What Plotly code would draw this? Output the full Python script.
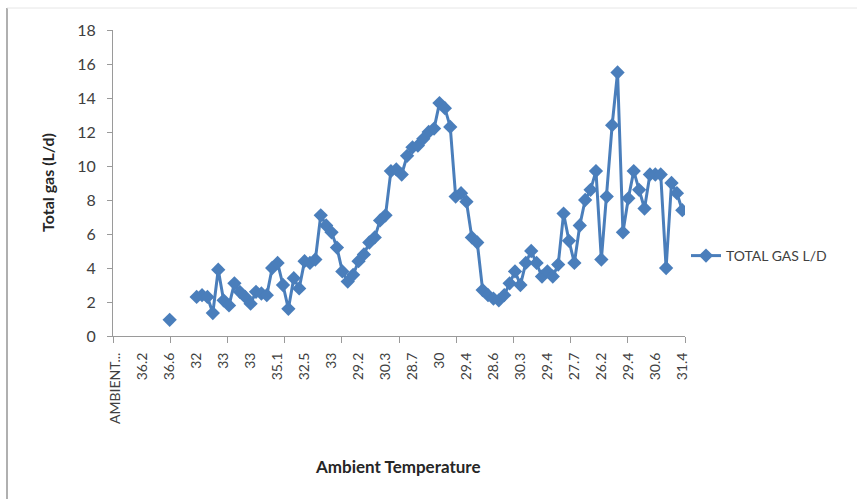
import plotly.graph_objects as go

# Tick labels shown on the category axis (every 5th category)
tick_labels = ["AMBIENT...", "36.2", "36.6", "32", "33", "33", "35.1", "32.5", "33",
               "29.2", "30.3", "28.7", "30", "29.4", "28.6", "30.3", "29.4", "27.7",
               "26.2", "29.4", "30.6", "31.4"]
label_step = 5
n_categories = (len(tick_labels) - 1) * label_step + 1

# Total gas (L/d) per category; None = no value
leading_empty = 10
isolated_value = [0.95]
gap_empty = 4
main_values = [2.3, 2.4, 2.3, 1.35, 3.9, 2.1, 1.8, 3.1, 2.6, 2.3,
               1.9, 2.6, 2.5, 2.4, 4.0, 4.3, 3.0, 1.6, 3.4, 2.8,
               4.4, 4.3, 4.5, 7.1, 6.5, 6.1, 5.2, 3.8, 3.2, 3.6,
               4.4, 4.8, 5.5, 5.8, 6.8, 7.1, 9.7, 9.8, 9.5, 10.6,
               11.1, 11.2, 11.6, 12.0, 12.2, 13.7, 13.4, 12.3, 8.2, 8.4,
               7.9, 5.8, 5.5, 2.7, 2.4, 2.2, 2.1, 2.4, 3.1, 3.8,
               3.0, 4.3, 5.0, 4.3, 3.5, 3.8, 3.5, 4.2, 7.2, 5.6,
               4.3, 6.5, 8.0, 8.6, 9.7, 4.5, 8.2, 12.4, 15.5, 6.1,
               8.1, 9.7, 8.6, 7.5, 9.5, 9.5, 9.5, 4.0, 9.0, 8.4,
               7.4]
gas = [None] * leading_empty + isolated_value + [None] * gap_empty + main_values
gas = gas + [None] * (n_categories - len(gas))
gas = gas[:n_categories]

y_ticks = list(range(0, 19, 2))

W, H = 857, 499
L, R, T, B = 113, 685, 30, 336

fig = go.Figure()
fig.add_trace(go.Scatter(
    x=list(range(n_categories)), y=gas, mode="lines+markers",
    name="TOTAL GAS L/D",
    line=dict(color="#4A7EBB", width=3),
    marker=dict(symbol="diamond", size=11, color="#4A7EBB"),
    connectgaps=False,
))

font_family = "Lato, Open Sans, Liberation Sans, sans-serif"

fig.update_layout(
    width=W, height=H,
    margin=dict(l=L, r=W - R, t=T, b=H - B),
    paper_bgcolor="white", plot_bgcolor="white",
    font=dict(family=font_family, color="#404040"),
    showlegend=True,
    legend=dict(x=(686 - L) / (R - L), xanchor="left",
                y=(B - 256) / (B - T), yanchor="middle",
                font=dict(size=14, color="#404040", family=font_family),
                bgcolor="rgba(0,0,0,0)"),
    xaxis=dict(
        range=[-0.5, n_categories - 0.5],
        tickmode="array",
        tickvals=[i * label_step for i in range(len(tick_labels))],
        ticktext=tick_labels,
        tickangle=-90,
        ticks="",
        ticklabelstandoff=10,
        tickfont=dict(size=14, color="#404040"),
        showgrid=False, zeroline=False,
        showline=True, linecolor="#9a9a9a", linewidth=1,
        minor=dict(ticks="outside", tickmode="linear", tick0=-0.5,
                   dtick=n_categories / 10, ticklen=6, tickcolor="#9a9a9a",
                   showgrid=False),
    ),
    yaxis=dict(
        range=[0, 18], tickmode="array", tickvals=y_ticks,
        ticks="outside", ticklen=5, tickcolor="#9a9a9a",
        ticklabelstandoff=8,
        tickfont=dict(size=16, color="#404040"),
        showgrid=False, zeroline=False,
        showline=True, linecolor="#9a9a9a", linewidth=1,
    ),
    annotations=[
        dict(text="<b>Total gas (L/d)</b>", textangle=-90,
             xref="paper", yref="paper", xanchor="center", yanchor="middle",
             x=(47 - L) / (R - L), y=0.5, showarrow=False,
             font=dict(size=16, color="#262626", family=font_family)),
        dict(text="<b>Ambient Temperature</b>",
             xref="paper", yref="paper", xanchor="center", yanchor="middle",
             x=(398 - L) / (R - L), y=(B - 466) / (B - T), showarrow=False,
             font=dict(size=17, color="#262626", family=font_family)),
    ],
    shapes=[
        dict(type="line", xref="paper", yref="paper",
             x0=(7 - L) / (R - L), x1=(7 - L) / (R - L),
             y0=(B - 8) / (B - T), y1=(B - 499) / (B - T),
             line=dict(color="#b0b0b0", width=2)),
        dict(type="line", xref="paper", yref="paper",
             x0=(7 - L) / (R - L), x1=(857 - L) / (R - L),
             y0=(B - 8) / (B - T), y1=(B - 8) / (B - T),
             line=dict(color="#e6e6e6", width=1)),
    ],
)

fig.write_html("out.html")
